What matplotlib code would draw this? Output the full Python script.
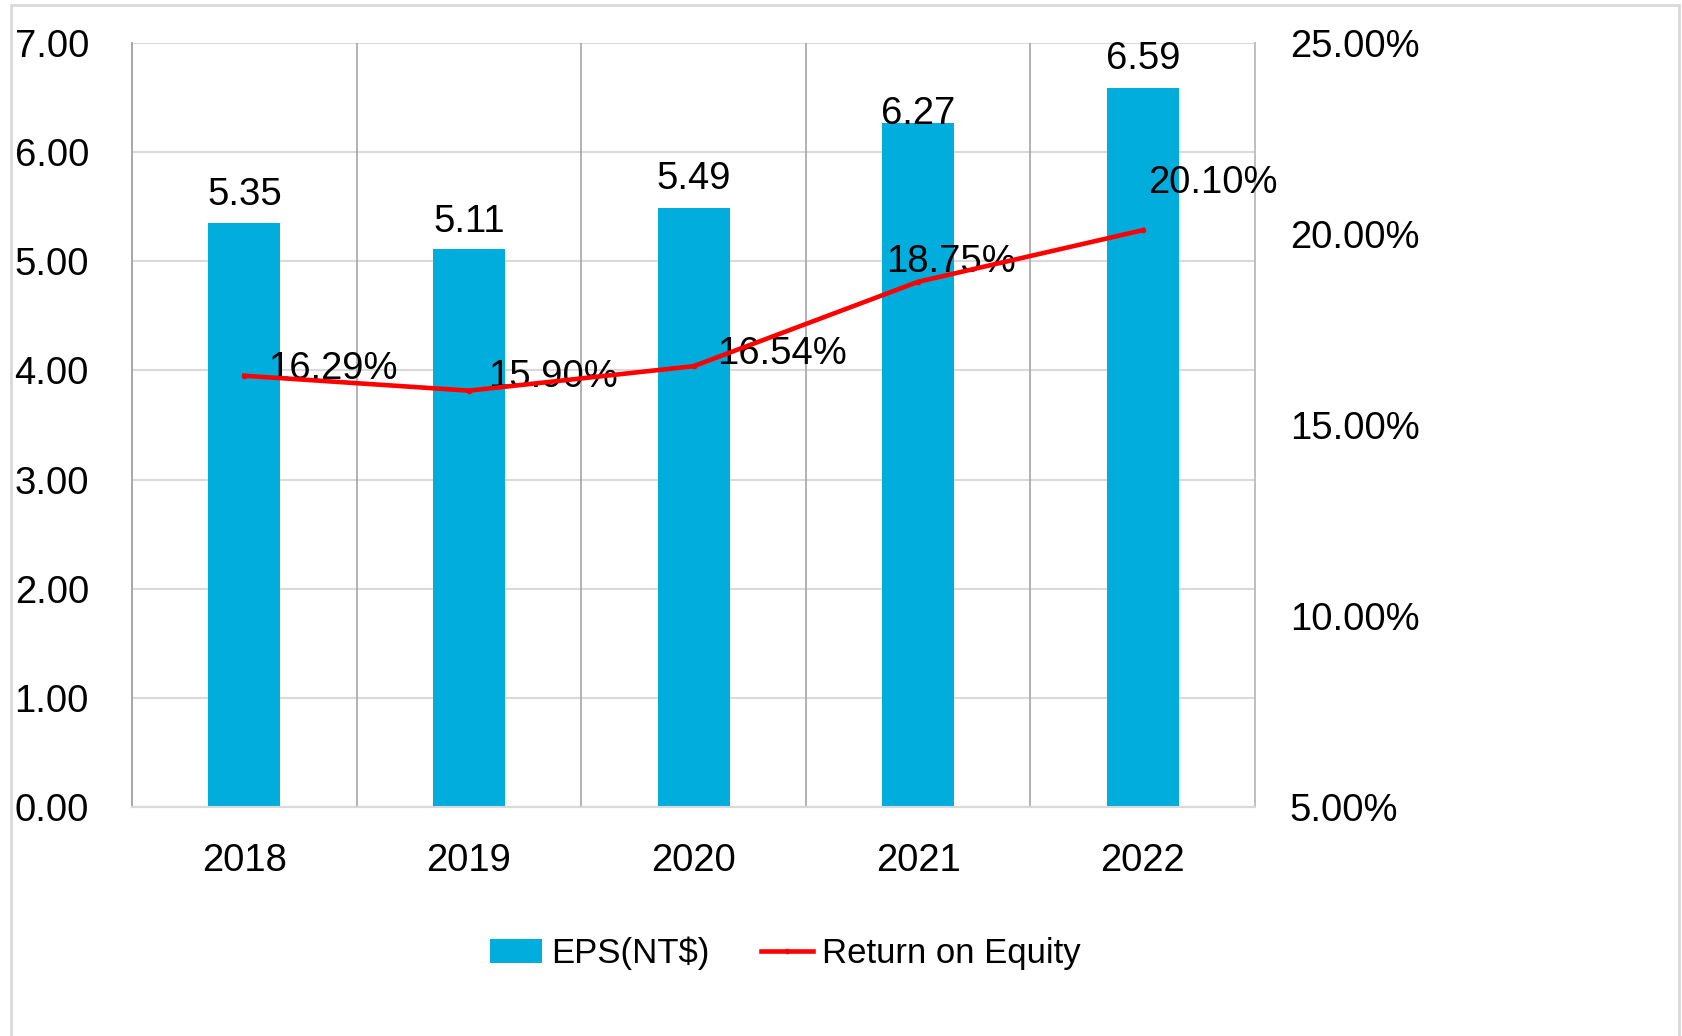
import numpy as np
import matplotlib.pyplot as plt
from matplotlib.patches import Rectangle

plt.rcParams['font.family'] = ['Liberation Sans', 'DejaVu Sans']

years = ['2018', '2019', '2020', '2021', '2022']
eps = [5.35, 5.11, 5.49, 6.27, 6.59]
roe = [16.29, 15.90, 16.54, 18.75, 20.10]

# label nudges in points (dx, dy)
roe_offsets = [(17, 5), (14, 10), (17, 9), (-23, 14), (4, 34)]
eps_offsets = [7, 7, 8, -7, 8]

bar_color = '#00ADDC'
fs = 27.5

fig = plt.figure(figsize=(16.82, 10.36), dpi=100)
ax = fig.add_axes([0.0785, 0.221, 0.6677, 0.7375])
ax2 = ax.twinx()

x = np.arange(len(years))
ax.bar(x, eps, width=0.32, color=bar_color, zorder=3, label='EPS(NT$)')
ax.set_xlim(-0.5, len(years) - 0.5)
ax.set_ylim(0, 7)
ax.set_yticks(np.arange(0, 8, 1))
ax.set_yticklabels([f'{v:.2f}' for v in np.arange(0, 8, 1)])
ax.set_xticks(x)
ax.set_xticklabels(years)
ax.tick_params(axis='y', length=0, pad=31, labelsize=fs)
ax.tick_params(axis='x', length=0, pad=26, labelsize=fs)
ax.yaxis.grid(True, color='#d9d9d9', linewidth=1.5, zorder=0)
for b in x[:-1] + 0.5:
    ax.axvline(b, color='#a6a6a6', linewidth=1.2, zorder=1)
ax.set_axisbelow(True)

for i, v in enumerate(eps):
    ax.annotate(f'{v:.2f}', (x[i], v), xytext=(0, eps_offsets[i]), textcoords='offset points',
                ha='center', va='bottom', fontsize=fs, zorder=5)

ax2.plot(x, roe, color='#ff0000', linewidth=3.3, marker='o', markersize=3, zorder=4,
         label='Return on Equity')
ax2.set_ylim(5, 25)
ax2.set_yticks(np.arange(5, 26, 5))
ax2.set_yticklabels([f'{v:.2f}%' for v in np.arange(5, 26, 5)])
ax2.tick_params(axis='y', length=0, pad=25, labelsize=fs)
for i, v in enumerate(roe):
    ax2.annotate(f'{v:.2f}%', (x[i], v), xytext=roe_offsets[i], textcoords='offset points',
                 ha='left', va='center', fontsize=fs)

for a in (ax, ax2):
    a.spines['top'].set_visible(False)
    a.spines['bottom'].set_color('#d9d9d9')
    a.spines['bottom'].set_linewidth(1.5)
    a.spines['left'].set_color('#a6a6a6')
    a.spines['left'].set_linewidth(1.2)
    a.spines['right'].set_color('#bfbfbf')
    a.spines['right'].set_linewidth(1.2)

h1, l1 = ax.get_legend_handles_labels()
h2, l2 = ax2.get_legend_handles_labels()
fig.legend(h1 + h2, l1 + l2, loc='center', bbox_to_anchor=(0.467, 0.080), ncol=2,
           frameon=False, fontsize=25, handlelength=1.5, handletextpad=0.25,
           columnspacing=1.5)

fig.patches.append(Rectangle((11 / 1682, -0.01), 1668 / 1682, 1.01 - 5 / 1036,
                             transform=fig.transFigure, fill=False,
                             edgecolor='#d9d9d9', linewidth=2, zorder=0))

fig.savefig('out.png', dpi=100)
